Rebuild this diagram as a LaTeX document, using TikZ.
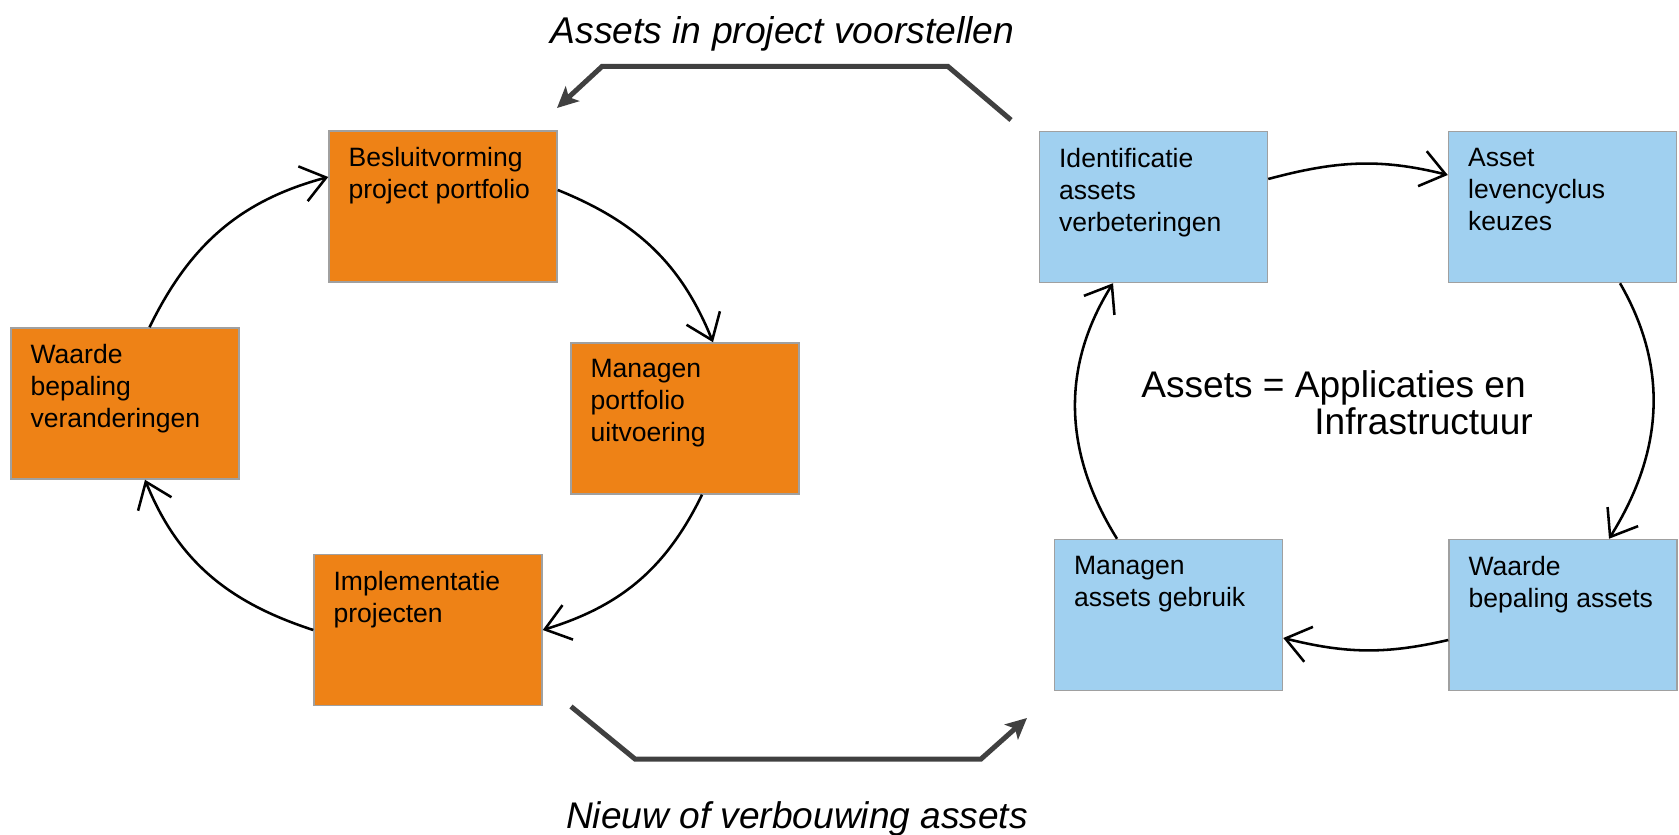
\documentclass[tikz,border=0pt]{standalone}
\usepackage{fontspec}
\setmainfont{Liberation Sans}
\usepackage{xcolor}
\usetikzlibrary{arrows.meta}
\definecolor{oranje}{RGB}{238,130,22}
\definecolor{lichtblauw}{RGB}{160,208,240}
\definecolor{rand}{RGB}{160,160,160}
\definecolor{donkergrijs}{RGB}{64,64,64}

\begin{document}
\begin{tikzpicture}[
    vak/.style={draw=rand, line width=0.85pt, minimum width=4.56cm, minimum height=3.02cm, inner sep=0pt},
    vaktekst/.style={anchor=north west, align=left, inner sep=0pt, font=\fontsize{15.1}{18.2}\selectfont},
    kringpijl/.style={line width=1.45pt, -{Straight Barb[length=0.48cm, width=0.72cm]}},
    stroompijl/.style={draw=donkergrijs, line width=2.85pt, -{Stealth[length=0.42cm, width=0.4cm, inset=0.1cm]}}
  ]
  \useasboundingbox (0,0) rectangle (33.58,16.68);

  % Boxes, project cycle
  \node[vak, fill=oranje] (bpp) at (8.86,12.55) {};
  \node[vak, fill=oranje] (wbv) at (2.50,8.61) {};
  \node[vak, fill=oranje] (mpu) at (13.70,8.31) {};
  \node[vak, fill=oranje] (ipr) at (8.56,4.08) {};

  % Boxes, asset cycle
  \node[vak, fill=lichtblauw] (iav) at (23.07,12.54) {};
  \node[vak, fill=lichtblauw] (alk) at (31.25,12.54) {};
  \node[vak, fill=lichtblauw] (mag) at (23.37,4.38) {};
  \node[vak, fill=lichtblauw] (wba) at (31.26,4.38) {};

  % Text in the boxes
  \node[vaktekst] (bpp-t) at ([shift={(0.4,-0.34)}]bpp.north west) {Besluitvorming\\project portfolio};
  \node[vaktekst] (wbv-t) at ([shift={(0.4,-0.34)}]wbv.north west) {Waarde\\bepaling\\veranderingen};
  \node[vaktekst] (mpu-t) at ([shift={(0.4,-0.34)}]mpu.north west) {Managen\\portfolio\\uitvoering};
  \node[vaktekst] (ipr-t) at ([shift={(0.4,-0.34)}]ipr.north west) {Implementatie\\projecten};
  \node[vaktekst] (iav-t) at ([shift={(0.4,-0.34)}]iav.north west) {Identificatie\\assets\\verbeteringen};
  \node[vaktekst] (alk-t) at ([shift={(0.4,-0.34)}]alk.north west) {Asset\\levencyclus\\keuzes};
  \node[vaktekst] (mag-t) at ([shift={(0.4,-0.34)}]mag.north west) {Managen\\assets gebruik};
  \node[vaktekst] (wba-t) at ([shift={(0.4,-0.34)}]wba.north west) {Waarde\\bepaling assets};

  % Cycle left
  \draw[kringpijl] ([xshift=0.49cm]wbv.north) to[out=64, in=195] ([yshift=0.59cm]bpp.west);
  \draw[kringpijl] ([yshift=0.33cm]bpp.east) to[out=-22, in=112] ([xshift=0.56cm]mpu.north);
  \draw[kringpijl] ([xshift=0.34cm]mpu.south) to[out=-116, in=17] (ipr.east);
  \draw[kringpijl] (ipr.west) to[out=162, in=-68] ([xshift=0.4cm]wbv.south);

  % Cycle right
  \draw[kringpijl] ([yshift=0.56cm]iav.east) to[out=15, in=166] ([yshift=0.64cm]alk.west);
  \draw[kringpijl] ([xshift=1.15cm]alk.south) to[out=-60, in=58] ([xshift=0.92cm]wba.north);
  \draw[kringpijl] ([yshift=-0.5cm]wba.west) to[out=193, in=-14] ([yshift=-0.46cm]mag.east);
  \draw[kringpijl] ([xshift=-1.03cm]mag.north) to[out=122, in=-122] ([xshift=-0.81cm]iav.south);

  % Centre text
  \node[anchor=north west, align=left, inner sep=0pt, font=\fontsize{21.1}{21.5}\selectfont] (def)
    at (22.82,9.28) {Assets = Applicaties en\\\hspace*{3.46cm}Infrastructuur};

  % Flow between the cycles
  \coordinate (vs1) at (20.22,14.28);
  \coordinate (vs2) at (18.96,15.35);
  \coordinate (vs3) at (12.04,15.35);
  \coordinate (vs4) at (11.14,14.52);
  \draw[stroompijl] (vs1) -- (vs2) -- (vs3) -- (vs4);
  \coordinate (nv1) at (11.42,2.55);
  \coordinate (nv2) at (12.70,1.50);
  \coordinate (nv3) at (19.62,1.50);
  \coordinate (nv4) at (20.54,2.32);
  \draw[stroompijl] (nv1) -- (nv2) -- (nv3) -- (nv4);

  % Labels of the flow
  \node[anchor=base, font=\fontsize{21.2}{24}\selectfont\itshape] (voorstel) at (15.65,15.80) {Assets in project voorstellen};
  \node[anchor=base, font=\fontsize{21.1}{24}\selectfont\itshape] (nieuw) at (15.94,0.12) {Nieuw of verbouwing assets};
\end{tikzpicture}
\end{document}
